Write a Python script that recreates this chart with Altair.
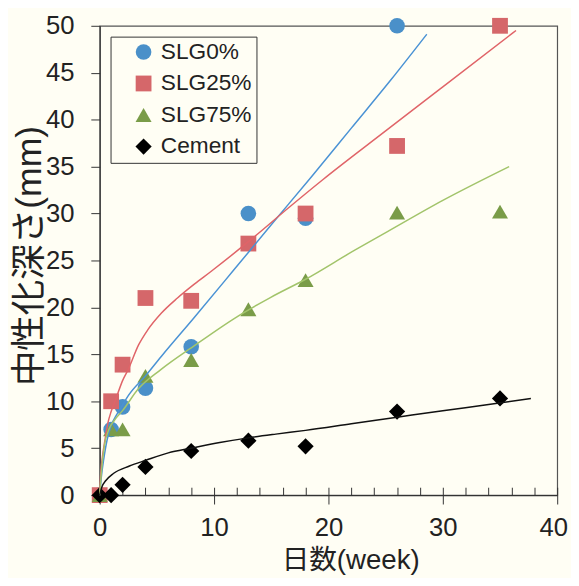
import altair as alt
import pandas as pd

# ---- measured data ----
weeks = [0, 1, 2, 4, 8, 13, 18, 26, 35]
slg0 = [0, 7.0, 9.4, 11.4, 15.8, 30.0, 29.5, 50.0]
slg25 = [0, 10.0, 13.9, 21.0, 20.7, 26.8, 30.0, 37.2, 50.0]
slg75 = [0, 7.0, 7.0, 12.7, 14.4, 19.8, 22.9, 30.1, 30.2]
cement = [0, 0.0, 1.1, 3.0, 4.7, 5.8, 5.2, 8.9, 10.3]

series_names = ["SLG0%", "SLG25%", "SLG75%", "Cement"]
marker_colors = ["#4A90C9", "#D5676A", "#7A9C48", "#000000"]
marker_shapes = ["circle", "square", "triangle-up", "diamond"]
marker_sizes = [250, 270, 260, 180]
line_colors = ["#4A92D4", "#E06468", "#A2C46A", "#111111"]

# fitted trend curves
fit0_x = [0, 0.15, 0.35, 0.65, 1.0, 1.5, 2.0, 2.5, 4.0, 5.4, 8.25, 11.7, 15.0, 18.5, 22.0, 25.5, 28.6]
fit0_y = [0, 2.0, 3.8, 5.9, 7.4, 8.6, 9.6, 10.6, 12.7, 14.8, 18.9, 23.95, 28.8, 33.9, 39.1, 44.3, 49.1]
fit25_x = [0, 0.1, 0.25, 0.45, 0.7, 1.0, 1.4, 2.0, 2.5, 3.4, 4.2, 5.4, 6.8, 8.3, 9.7, 13, 16.7, 19.5, 25, 30, 36.4]
fit25_y = [0, 2.5, 4.2, 5.8, 7.6, 8.9, 10.2, 12.2, 13.4, 16.0, 17.6, 19.4, 21.0, 22.5, 23.8, 27.0, 30.8, 33.6, 38.8, 43.5, 49.5]
fit75_x = [0, 0.15, 0.4, 0.8, 1.3, 2, 3.36, 5.37, 8.25, 12, 15, 18, 22.3, 25.2, 30, 35.8]
fit75_y = [0, 2.5, 5.2, 7.0, 8.0, 9.0, 11.3, 13.4, 15.9, 19.0, 21.1, 23.0, 26.1, 28.1, 31.4, 35.0]
fitc_x = [0, 0.2, 0.5, 1.2, 2.6, 4, 6, 8, 10.5, 13, 15.4, 18, 22, 26, 30, 34, 37.7]
fitc_y = [0, 0.9, 1.5, 2.3, 3.1, 3.7, 4.5, 5.0, 5.6, 6.1, 6.5, 6.9, 7.6, 8.3, 9.0, 9.65, 10.3]

x_major = [0, 10, 20, 30, 40]
x_minor = list(range(0, 41, 2))
y_ticks = [0, 5, 10, 15, 20, 25, 30, 35, 40, 45, 50]

bg = "#FFFEF4"
label_font = "Liberation Sans, Arial"
title_font = "Liberation Sans, Noto Sans CJK JP"

rows = []
for name, vals in zip(series_names, [slg0, slg25, slg75, cement]):
    for w, v in zip(weeks, vals):
        rows.append({"series": name, "week": w, "depth": v})
pts = pd.DataFrame(rows)

x_scale = alt.Scale(domain=[0, 40], nice=False, zero=False)
y_scale = alt.Scale(domain=[0, 50], nice=False, zero=False)

y_enc = alt.Y(
    "depth:Q", scale=y_scale,
    axis=alt.Axis(
        values=y_ticks, title="中性化深さ(mm)", grid=False,
        tickSize=9, tickColor="#333", domainColor="#333", domainWidth=1.2,
        labelFont=label_font, labelFontSize=26, labelColor="#222", labelPadding=17,
        labelFlush=False, labelOverlap=False,
        titleFont=title_font, titleFontSize=36, titleFontWeight="normal", titleColor="#222",
        titleAngle=270, titleBaseline="alphabetic", titleAlign="center",
        titleX=-60, titleY=233,
    ),
)

legend = alt.Legend(
    orient="none", legendX=11, legendY=11, title=None,
    fillColor=bg, strokeColor="#333", padding=4,
    symbolStrokeWidth=0, symbolOffset=18,
    labelFont=label_font, labelFontSize=23, labelColor="#222",
    labelOffset=6, rowPadding=8,
    labelExpr="datum.label + '       '",
)

points = alt.Chart(pts).mark_point(filled=True, opacity=1, strokeWidth=0).encode(
    x=alt.X(
        "week:Q", scale=x_scale,
        axis=alt.Axis(
            values=x_major, title="日数(week)", grid=False,
            tickSize=9, tickColor="#333", domainColor="#333", domainWidth=1.2,
            labelFont=label_font, labelFontSize=26, labelColor="#222", labelPadding=11,
            labelFlush=False, labelOverlap=False,
            labelOffset=alt.ConditionalAxisNumber(
                condition={"test": "datum.value == 40", "value": -4}, value=0
            ),
            titleFont=title_font, titleFontSize=28, titleFontWeight="normal", titleColor="#222",
            titleBaseline="alphabetic", titleAlign="center", titleX=254, titleY=74,
        ),
    ),
    y=y_enc,
    color=alt.Color("series:N", scale=alt.Scale(domain=series_names, range=marker_colors), legend=legend),
    shape=alt.Shape("series:N", scale=alt.Scale(domain=series_names, range=marker_shapes), legend=legend),
    size=alt.Size("series:N", scale=alt.Scale(domain=series_names, range=marker_sizes), legend=legend),
)

fit_xs = [fit0_x, fit25_x, fit75_x, fitc_x]
fit_ys = [fit0_y, fit25_y, fit75_y, fitc_y]
line_layers = []
for i, (name, xs, ys, col) in enumerate(zip(series_names, fit_xs, fit_ys, line_colors)):
    df = pd.DataFrame({"week": xs, "depth": ys})
    if i == 0:
        x_axis = alt.Axis(
            orient="bottom", values=x_minor, tickSize=8, offset=-8,
            domain=False, labels=False, title=None, grid=False,
            tickColor="#333", tickWidth=1,
        )
    else:
        x_axis = None
    line_layers.append(
        alt.Chart(df).mark_line(strokeWidth=1.5, interpolate="monotone", color=col).encode(
            x=alt.X("week:Q", scale=x_scale, axis=x_axis),
            y=y_enc,
        )
    )

chart = (
    alt.layer(points, *line_layers)
    .resolve_axis(x="independent")
    .properties(
        width=464, height=476,
        padding={"left": 93, "top": 14, "right": 14, "bottom": 80},
        autosize=alt.AutoSizeParams(type="none"),
        background=bg,
    )
    .configure_view(stroke="#555", strokeWidth=1.2, fill=bg)
)

chart.save("out.html", embed_options={"renderer": "svg", "actions": False})
